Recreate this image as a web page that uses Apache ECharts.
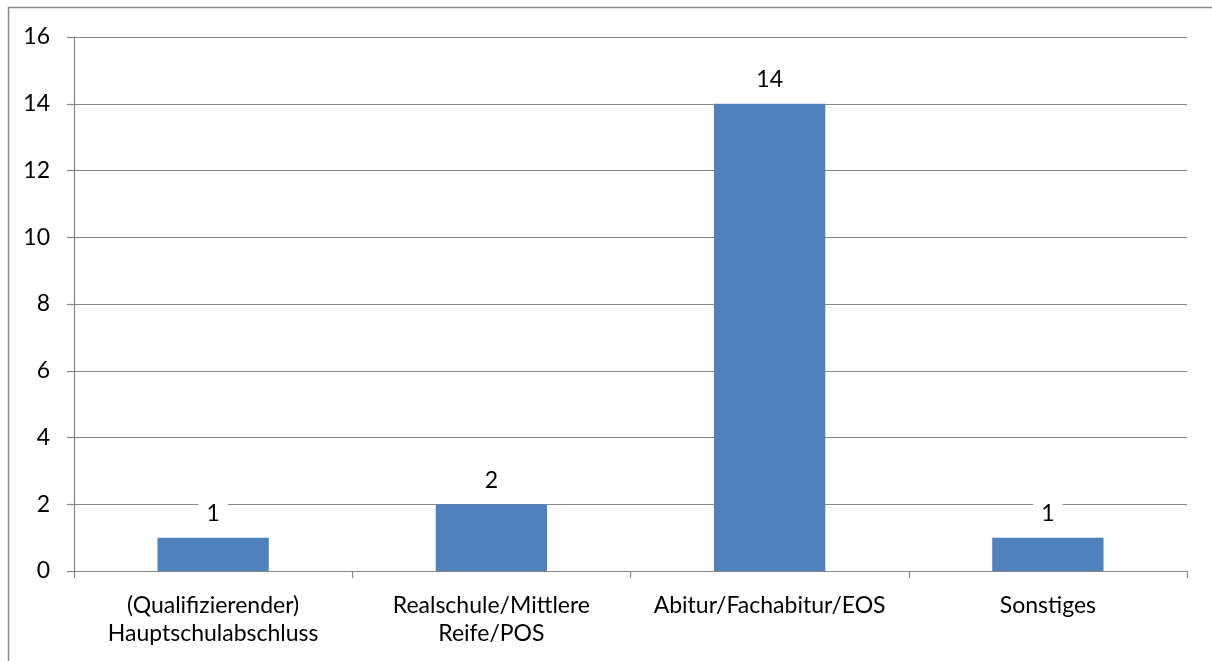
<!DOCTYPE html>
<html>
<head>
<meta charset="utf-8">
<script src="https://cdn.jsdelivr.net/npm/echarts@6/dist/echarts.min.js"></script>
<style>html,body{margin:0;padding:0;background:#fff}#c{width:1212px;height:661px}</style>
</head>
<body>
<div id="c"></div>
<script>
const categories = ["(Qualifizierender)\nHauptschulabschluss", "Realschule/Mittlere\nReife/POS", "Abitur/Fachabitur/EOS", "Sonstiges"];
const values = [1, 2, 14, 1];
const yMin = 0, yMax = 16, yStep = 2;

const chart = echarts.init(document.getElementById('c'), null, {renderer: 'canvas'});
const font = 'Lato, "Open Sans", sans-serif';
const gray = '#878787';
chart.setOption({
  animation: false,
  textStyle: {fontFamily: font},
  graphic: [{
    type: 'rect', silent: true, z: -1,
    shape: {x: 8.5, y: 7.5, width: 1400, height: 800},
    style: {fill: 'none', stroke: gray, lineWidth: 1.5}
  }],
  grid: {left: 74, right: 25, top: 37, bottom: 90, containLabel: false},
  xAxis: {
    type: 'category', data: categories,
    axisLine: {show: true, lineStyle: {color: gray, width: 1.2}},
    axisTick: {show: true, length: 7, alignWithLabel: false, lineStyle: {color: gray, width: 1.2}},
    axisLabel: {color: '#000', fontSize: 23, fontFamily: font, margin: 21, lineHeight: 28, interval: 0}
  },
  yAxis: {
    type: 'value', min: yMin, max: yMax, interval: yStep,
    axisLine: {show: true, lineStyle: {color: gray, width: 1.2}},
    axisTick: {show: true, length: 7, lineStyle: {color: gray, width: 1.2}},
    splitLine: {show: true, lineStyle: {color: gray, width: 1.2}},
    axisLabel: {color: '#000', fontSize: 23, fontFamily: font, margin: 24}
  },
  series: [{
    type: 'bar', data: values, barCategoryGap: '60%',
    itemStyle: {color: '#4F81BD'},
    label: {
      show: true, position: 'top', distance: 10, color: '#000', fontSize: 23, fontFamily: font,
      lineHeight: 26, backgroundColor: '#fff', padding: [1, 8, 1, 8]
    }
  }]
});
</script>
</body>
</html>
